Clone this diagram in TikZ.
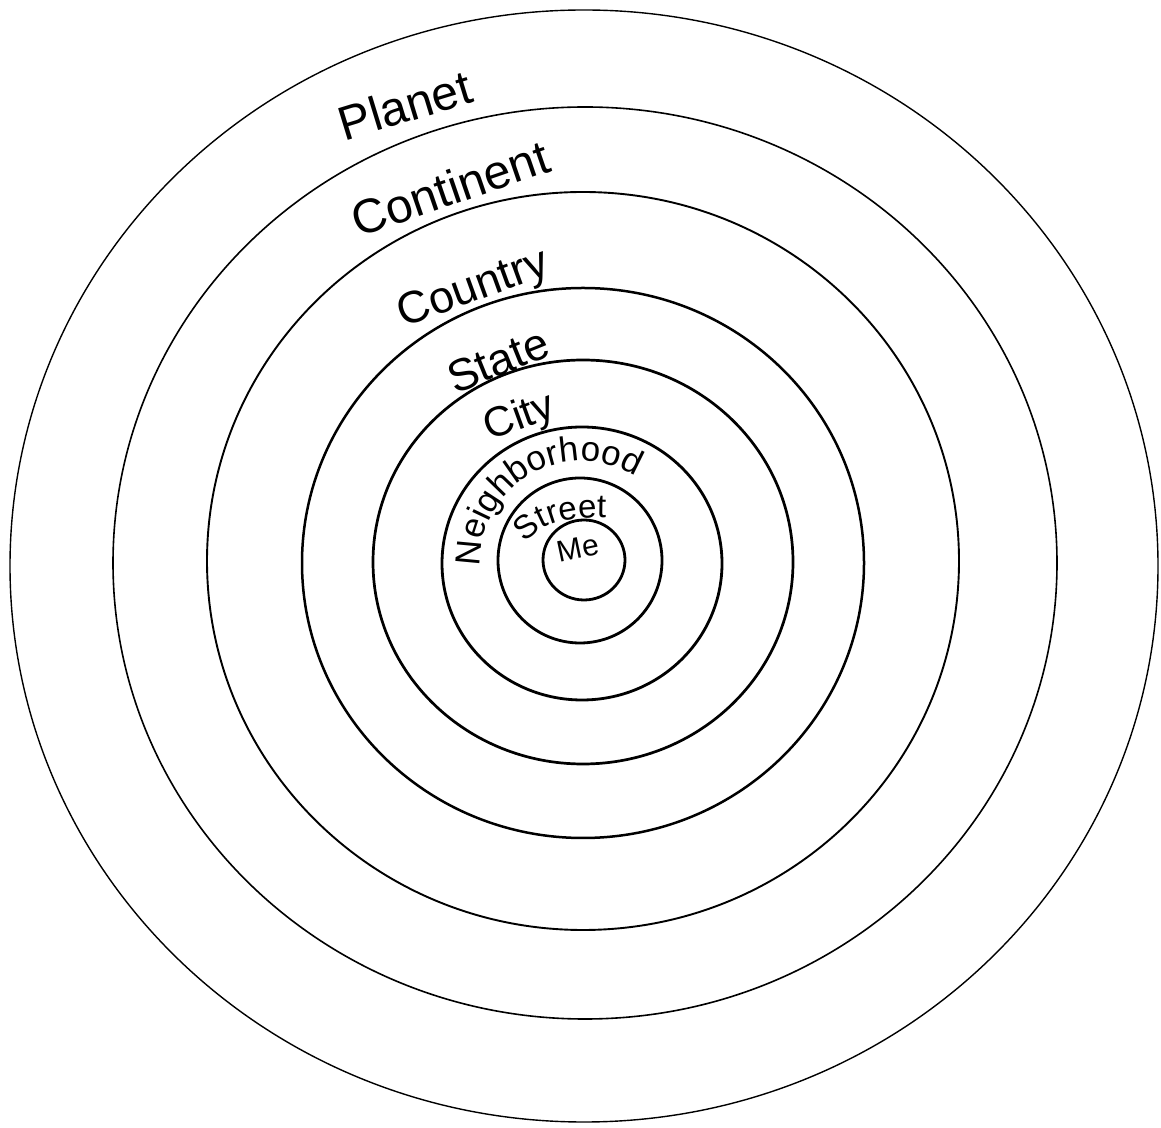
\documentclass[tikz,border=0pt]{standalone}
\usepackage{fontspec}
\setmainfont{Liberation Sans}
\usetikzlibrary{decorations.text}
\begin{document}
\begin{tikzpicture}[x=1pt,y=1pt,
  ring/.style={draw=black, line width=#1, line join=round},
  lbl/.style={inner sep=0pt, text=black}]
\useasboundingbox (0,0) rectangle (1161,1127);
\fill[white] (0,0) rectangle (1161,1127);
% rings, outermost first
\draw[ring=1.4pt] (584,561)   ellipse [x radius=574pt, y radius=556pt];
\draw[ring=1.6pt] (585,564)   ellipse [x radius=472pt, y radius=456pt];
\draw[ring=1.9pt] (583,566)   ellipse [x radius=376pt, y radius=369pt];
\draw[ring=2.5pt] (583,564)   ellipse [x radius=281pt, y radius=275pt];
\draw[ring=2.7pt] (583,565)   ellipse [x radius=210pt, y radius=202pt];
\draw[ring=2.8pt] (582,563.5) ellipse [x radius=140pt, y radius=136.5pt];
\draw[ring=2.8pt] (580,566.5) ellipse [x radius=82pt,  y radius=82.5pt];
\draw[ring=2.8pt] (584,567)   ellipse [x radius=41pt,  y radius=40pt];
% straight labels
\node[lbl, rotate=17, font=\fontsize{48}{48}\selectfont] (planet)    at (405,1022) {Planet};
\node[lbl, rotate=19, font=\fontsize{48}{48}\selectfont] (continent) at (450,939)  {Continent};
\node[lbl, rotate=20, font=\fontsize{45}{45}\selectfont] (country)   at (474,837)  {Country};
\node[lbl, rotate=22, font=\fontsize{45}{45}\selectfont] (state)     at (498,767)  {State};
\node[lbl, rotate=20, font=\fontsize{42}{42}\selectfont] (city)      at (520,709)  {City};
\node[lbl, rotate=12, font=\fontsize{30}{30}\selectfont] (me)        at (578,579)  {Me};
% curved labels
\path[decorate, decoration={text along path, text align=center,
  text={|\fontsize{35}{35}\selectfont|Neighborhood}}]
  (582,564) ++(200:102pt) arc[start angle=200, end angle=40, radius=102pt];
\path[decorate, decoration={text along path, text align=center,
  text={|\fontsize{33}{33}\selectfont|Street}}]
  (515,568) .. controls (530,602) and (565,614) .. (625,608);
\end{tikzpicture}
\end{document}
